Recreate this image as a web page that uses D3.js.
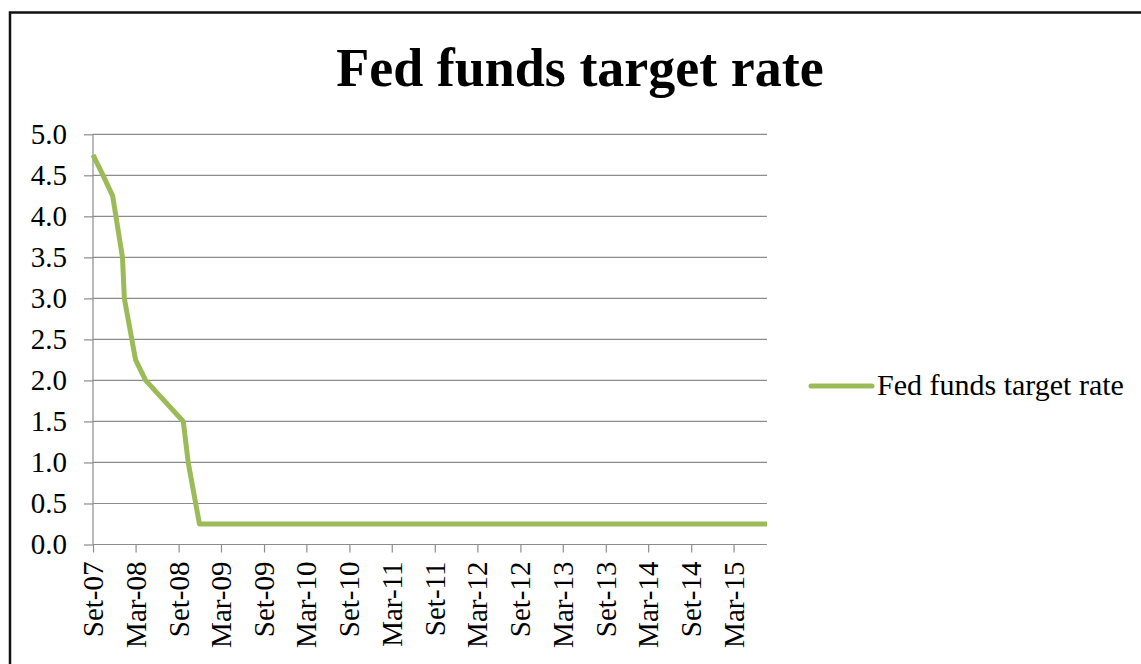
<!DOCTYPE html>
<html lang="en">
<head>
  <meta charset="UTF-8">
  <title>Fed funds target rate</title>
  <script src="https://d3js.org/d3.v7.min.js"></script>
  <style>
    body { margin: 0; background: #fff; }
    .grid line { stroke: #8c8c8c; stroke-width: 1.2px; }
    .axis line, .axis-line { stroke: #8c8c8c; stroke-width: 1.2px; }
    .axis path.domain { display: none; }
  </style>
</head>
<body>
  <svg width="1141" height="664"></svg>

  <script>
    // FOMC decisions (date, target rate %) and the last date shown
    const dates = ["2007-09-18", "2007-10-31", "2007-12-11", "2008-01-22", "2008-01-30",
                   "2008-03-18", "2008-04-30", "2008-10-08", "2008-10-29", "2008-12-16", "2015-08-08"];
    const rates = [4.75, 4.50, 4.25, 3.50, 3.00, 2.25, 2.00, 1.50, 1.00, 0.25, 0.25];

    const tickLabels = ["Set-07", "Mar-08", "Set-08", "Mar-09", "Set-09", "Mar-10", "Set-10", "Mar-11",
                        "Set-11", "Mar-12", "Set-12", "Mar-13", "Set-13", "Mar-14", "Set-14", "Mar-15"];
    const yTicks = [0, 0.5, 1, 1.5, 2, 2.5, 3, 3.5, 4, 4.5, 5];

    const seriesName = "Fed funds target rate";
    const serif = '"Liberation Serif", "Times New Roman", serif';

    const parse = d3.utcParse("%Y-%m-%d");
    const data = dates.map((d, i) => ({ date: parse(d), rate: rates[i] }));

    const svg = d3.select("svg");

    // chart frame
    svg.append("rect")
      .attr("x", 10).attr("y", 12.5)
      .attr("width", 1200).attr("height", 700)
      .attr("fill", "none")
      .attr("stroke", "#111")
      .attr("stroke-width", 2.5);

    const x = d3.scaleUtc()
      .domain(d3.extent(data, d => d.date))
      .range([93, 767]);

    const y = d3.scaleLinear()
      .domain([0, 5])
      .range([544.5, 134.3]);

    const tickDates = tickLabels.map((l, i) => d3.utcMonth.offset(data[0].date, 6 * i));

    // gridlines
    svg.append("g")
      .attr("class", "grid")
      .selectAll("line")
      .data(yTicks.slice(1))
      .join("line")
      .attr("x1", x.range()[0]).attr("x2", x.range()[1])
      .attr("y1", d => y(d)).attr("y2", d => y(d));

    // y axis
    svg.append("g")
      .attr("class", "axis")
      .attr("transform", `translate(${x.range()[0]},0)`)
      .call(d3.axisLeft(y).tickValues(yTicks).tickFormat(d3.format(".1f")).tickSizeOuter(0).tickSize(9).tickPadding(17));

    // x axis
    const xAxis = svg.append("g")
      .attr("class", "axis")
      .attr("transform", `translate(0,${y(0)})`)
      .call(d3.axisBottom(x).tickValues(tickDates).tickFormat((d, i) => tickLabels[i]).tickSizeOuter(0).tickSize(8));

    xAxis.selectAll("text")
      .attr("text-anchor", "end")
      .attr("transform", "translate(0,17) rotate(-90)")
      .attr("x", 0).attr("y", 0)
      .attr("dy", "0.33em");

    svg.selectAll(".axis text")
      .style("font-family", serif)
      .style("font-size", "29px")
      .attr("fill", "#000");

    // axis lines
    svg.append("line").attr("class", "axis-line")
      .attr("x1", x.range()[0]).attr("x2", x.range()[0])
      .attr("y1", y.range()[1]).attr("y2", y.range()[0]);
    svg.append("line").attr("class", "axis-line")
      .attr("x1", x.range()[0]).attr("x2", x.range()[1])
      .attr("y1", y(0)).attr("y2", y(0));

    // series line
    const line = d3.line()
      .x(d => x(d.date))
      .y(d => y(d.rate));

    svg.append("path")
      .datum(data)
      .attr("d", line)
      .attr("fill", "none")
      .attr("stroke", "#9bbb59")
      .attr("stroke-width", 5)
      .attr("stroke-linejoin", "round");

    // title
    svg.append("text")
      .attr("x", 580).attr("y", 85.5)
      .attr("text-anchor", "middle")
      .style("font-family", serif)
      .style("font-size", "54px")
      .style("font-weight", "bold")
      .text(seriesName);

    // legend
    svg.append("line")
      .attr("x1", 811).attr("x2", 872)
      .attr("y1", 386).attr("y2", 386)
      .attr("stroke", "#9bbb59")
      .attr("stroke-width", 5)
      .attr("stroke-linecap", "round");

    svg.append("text")
      .attr("x", 877).attr("y", 395)
      .style("font-family", serif)
      .style("font-size", "30px")
      .text(seriesName);
  </script>
</body>
</html>
